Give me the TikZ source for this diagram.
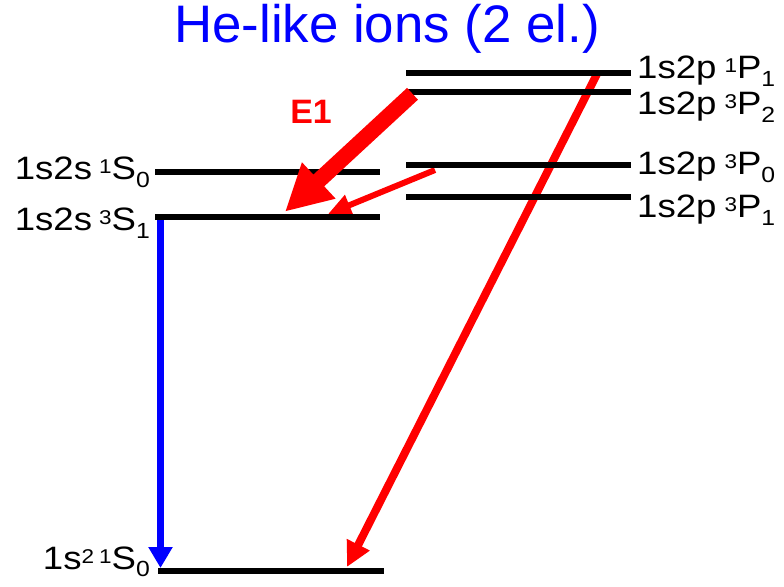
\documentclass[tikz,border=0pt]{standalone}
\usepackage{fontspec}
\setmainfont{Liberation Sans}
\newfontfamily\labfont[FakeStretch=1.13]{Liberation Sans}
\usetikzlibrary{arrows.meta}
\newcommand\upidx[1]{\raisebox{6bp}{\fontsize{20}{20}\selectfont #1}}
\newcommand\dnidx[1]{\raisebox{-7.5bp}{\fontsize{22}{22}\selectfont #1}}
\begin{document}
\begin{tikzpicture}[x=1bp,y=-1bp,
  level/.style={line width=6bp, line cap=butt, black},
  lab/.style={font=\labfont\fontsize{32.5}{36}\selectfont, inner sep=0pt},
  redarrow/.style={draw=red, line cap=butt},
  title/.style={font=\fontsize{53}{60}\selectfont, text=blue, inner sep=0pt},
  elabel/.style={font=\bfseries\fontsize{34}{40}\selectfont, text=red, inner sep=0pt}]
\useasboundingbox (0,0) rectangle (784,587);
% title
\node[title, anchor=base] (ttl) at (387,43) {He-like ions (2 el.)};
% level end points
\coordinate (sa) at (155,172);   \coordinate (sb) at (380,172);
\coordinate (ta) at (155,217);   \coordinate (tb) at (380,217);
\coordinate (ga) at (158,571);   \coordinate (gb) at (384,571);
\coordinate (p1a) at (406,73);   \coordinate (p1b) at (631,73);
\coordinate (p2a) at (406,92.5); \coordinate (p2b) at (631,92.5);
\coordinate (p0a) at (406,165);  \coordinate (p0b) at (631,165);
\coordinate (q1a) at (406,197.5);\coordinate (q1b) at (631,197.5);
% arrow end points
\coordinate (lgs) at (597,74);   \coordinate (lgt) at (347,567);
\coordinate (ths) at (435,170);  \coordinate (tht) at (328,214);
\coordinate (tks) at (412.5,93.8); \coordinate (tkt) at (285,211.7);
\coordinate (bls) at (160.5,220); \coordinate (blt) at (160.5,568);
% arrows under levels
\draw[redarrow, line width=8bp, -{Triangle[length=25bp,width=24bp]}] (lgs) -- (lgt);
\draw[redarrow, line width=6bp, -{Triangle[length=23bp,width=21bp]}] (ths) -- (tht);
\draw[draw=blue, fill=blue, line width=7.5bp, line cap=butt, -{Triangle[length=21bp,width=23bp]}] (bls) -- (blt);
% levels
\draw[level] (sa) -- (sb);
\draw[level] (ta) -- (tb);
\draw[level] (ga) -- (gb);
\draw[level] (p1a) -- (p1b);
\draw[level] (p2a) -- (p2b);
\draw[level] (p0a) -- (p0b);
\draw[level] (q1a) -- (q1b);
% thick E1 arrow on top
\draw[redarrow, line width=16bp, -{Triangle[length=46bp,width=46bp]}] (tks) -- (tkt);
\node[elabel] (e1) at (311,112) {E1};
% labels
\node[lab, anchor=base east] (lsa) at (150,180) {1s2s\hspace{7bp}\upidx{1}S\dnidx{0}};
\node[lab, anchor=base east] (lta) at (150,231) {1s2s\hspace{7bp}\upidx{3}S\dnidx{1}};
\node[lab, anchor=base east] (lga) at (150,569) {1s\upidx{2}\hspace{5bp}\upidx{1}S\dnidx{0}};
\node[lab, anchor=base west] (lp1) at (637,79) {1s2p\hspace{8bp}\upidx{1}P\dnidx{1}};
\node[lab, anchor=base west] (lp2) at (637,115) {1s2p\hspace{8bp}\upidx{3}P\dnidx{2}};
\node[lab, anchor=base west] (lp0) at (637,175) {1s2p\hspace{8bp}\upidx{3}P\dnidx{0}};
\node[lab, anchor=base west] (lq1) at (637,218) {1s2p\hspace{8bp}\upidx{3}P\dnidx{1}};
\end{tikzpicture}
\end{document}
